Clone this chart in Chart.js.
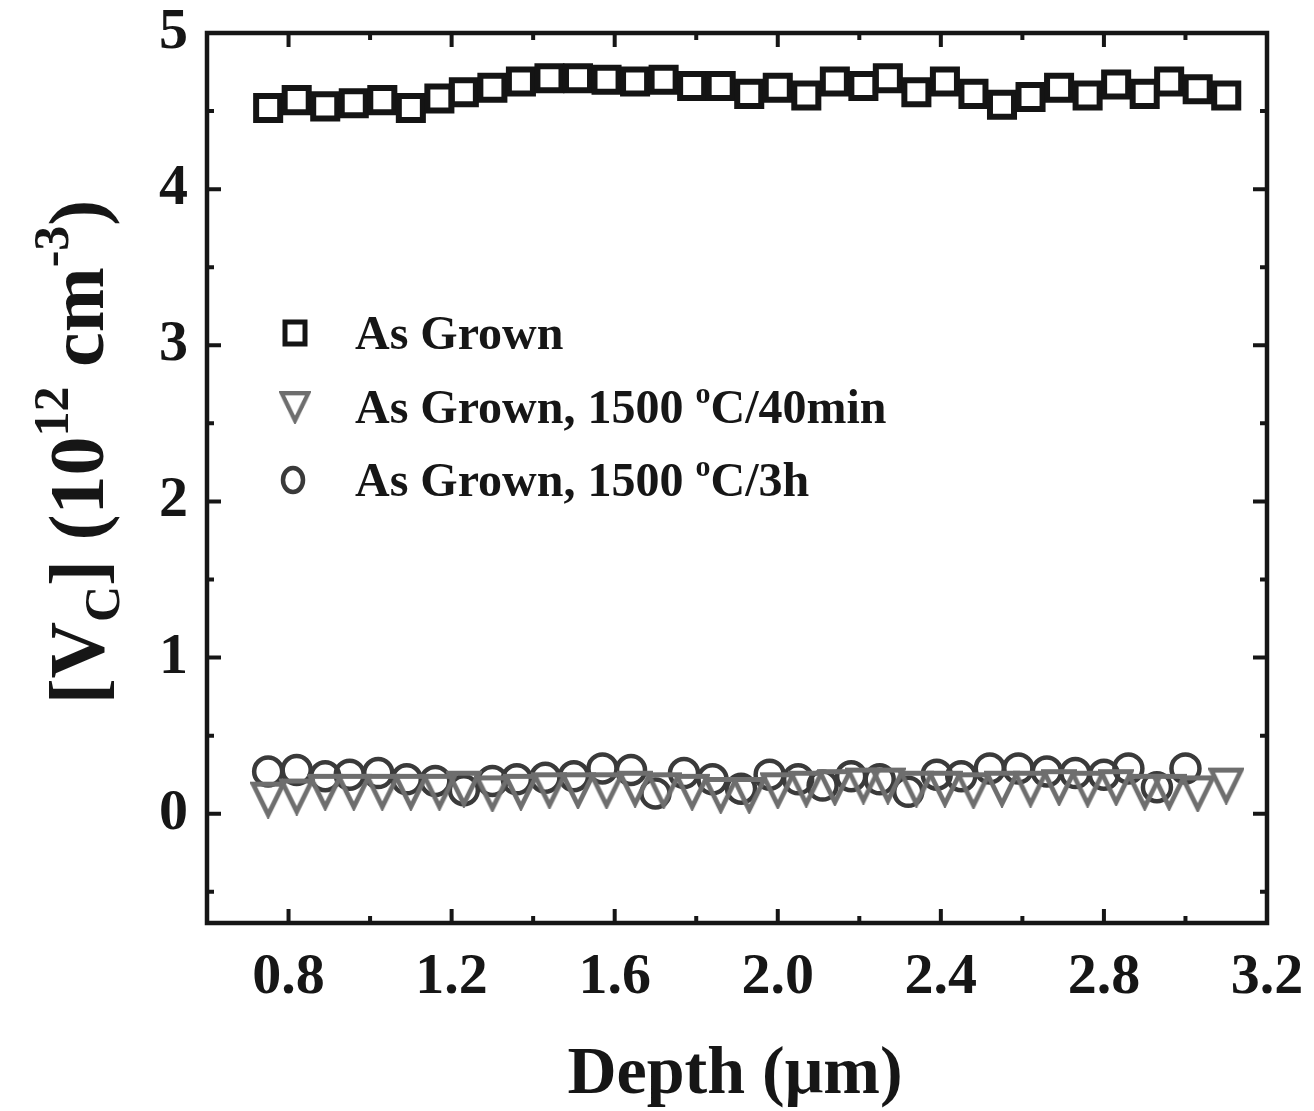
<!DOCTYPE html>
<html lang="en">
<head>
<meta charset="UTF-8">
<title>Vc depth profile</title>
<script src="https://cdn.jsdelivr.net/npm/chart.js"></script>
<style>
  body { margin: 0; background: #fff; }
  #wrap { width: 1314px; height: 1111px; }
</style>
</head>
<body>
<div id="wrap"><canvas id="chart"></canvas></div>
<script>
// depth positions (um)
const depth = [0.75, 0.82, 0.89, 0.96, 1.03, 1.10, 1.17, 1.23, 1.30, 1.37, 1.44, 1.51, 1.58, 1.65, 1.72, 1.79, 1.86, 1.93,
               2.00, 2.07, 2.14, 2.21, 2.27, 2.34, 2.41, 2.48, 2.55, 2.62, 2.69, 2.76, 2.83, 2.90, 2.96, 3.03, 3.10];
const depth3h = [0.75, 0.82, 0.89, 0.95, 1.02, 1.09, 1.16, 1.23, 1.30, 1.36, 1.43, 1.50, 1.57, 1.64, 1.70, 1.77, 1.84,
                 1.91, 1.98, 2.05, 2.11, 2.18, 2.25, 2.32, 2.39, 2.45, 2.52, 2.59, 2.66, 2.73, 2.80, 2.86, 2.93, 3.00];

// [Vc] in 1e12 cm^-3
const asGrown = [4.52, 4.57, 4.53, 4.55, 4.57, 4.52, 4.58, 4.62, 4.65, 4.69, 4.71, 4.71, 4.70, 4.69, 4.70, 4.66, 4.66, 4.61,
                 4.65, 4.60, 4.69, 4.66, 4.71, 4.62, 4.69, 4.61, 4.54, 4.59, 4.65, 4.60, 4.67, 4.61, 4.69, 4.64, 4.60];
const anneal40 = [0.09, 0.11, 0.14, 0.14, 0.14, 0.14, 0.14, 0.16, 0.13, 0.14, 0.15, 0.15, 0.15, 0.16, 0.15, 0.14, 0.12, 0.12,
                  0.15, 0.16, 0.17, 0.18, 0.18, 0.16, 0.16, 0.15, 0.16, 0.16, 0.17, 0.16, 0.17, 0.14, 0.14, 0.13, 0.18];
const anneal3h = [0.27, 0.28, 0.24, 0.25, 0.26, 0.22, 0.21, 0.15, 0.21, 0.22, 0.23, 0.24, 0.29, 0.28, 0.13, 0.26, 0.22,
                  0.16, 0.25, 0.22, 0.18, 0.24, 0.22, 0.14, 0.25, 0.24, 0.29, 0.29, 0.27, 0.26, 0.25, 0.29, 0.17, 0.29];

const seriesNames = ['As Grown', 'As Grown, 1500 ', 'As Grown, 1500 '];
const seriesTails = ['', 'C/40min', 'C/3h'];

const xTicks = [0.8, 1.2, 1.6, 2.0, 2.4, 2.8, 3.2];
const xMinor = [0.6, 1.0, 1.4, 1.8, 2.2, 2.6, 3.0];
const yTicks = [0, 1, 2, 3, 4, 5];
const yMinor = [-0.5, 0.5, 1.5, 2.5, 3.5, 4.5];

const FONT = '"Liberation Serif", "Times New Roman", serif';
const INK = '#161616';
const COL_SQ = '#141414', COL_TRI = '#6e6e6e', COL_CIR = '#3a3a3a';

// down-pointing triangle marker
function makeTriangle() {
  const c = document.createElement('canvas');
  c.width = 36; c.height = 38;
  const g = c.getContext('2d');
  g.strokeStyle = COL_TRI;
  g.lineWidth = 4.8;
  g.lineJoin = 'miter';
  g.beginPath();
  g.moveTo(3, 3.5); g.lineTo(33, 3.5); g.lineTo(18, 34); g.closePath();
  g.stroke();
  return c;
}
const triImg = makeTriangle();

function xy(xs, ys) { return xs.map((v, i) => ({ x: v, y: ys[i] })); }

// draw a run of text pieces (size factor, baseline shift) starting at x
function drawPieces(ctx, pieces, x, y, size) {
  let cx = x;
  pieces.forEach(p => {
    ctx.font = 'bold ' + Math.round(size * p.s) + 'px ' + FONT;
    ctx.fillText(p.t, cx, y + (p.dy || 0));
    cx += ctx.measureText(p.t).width;
  });
  return cx;
}
function piecesWidth(ctx, pieces, size) {
  let w = 0;
  pieces.forEach(p => {
    ctx.font = 'bold ' + Math.round(size * p.s) + 'px ' + FONT;
    w += ctx.measureText(p.t).width;
  });
  return w;
}

const framePlugin = {
  id: 'frame',
  afterDatasetsDraw(chart) {
    const { ctx, chartArea: a, scales: { x, y } } = chart;
    ctx.save();
    ctx.strokeStyle = INK;
    ctx.lineWidth = 4.5;
    ctx.strokeRect(a.left, a.top, a.right - a.left, a.bottom - a.top);
    ctx.lineWidth = 4;
    ctx.beginPath();
    const tickX = (vals, len) => vals.forEach(v => {
      const p = x.getPixelForValue(v);
      ctx.moveTo(p, a.bottom); ctx.lineTo(p, a.bottom - len);
      ctx.moveTo(p, a.top); ctx.lineTo(p, a.top + len);
    });
    const tickY = (vals, len) => vals.forEach(v => {
      const p = y.getPixelForValue(v);
      ctx.moveTo(a.left, p); ctx.lineTo(a.left + len, p);
      ctx.moveTo(a.right, p); ctx.lineTo(a.right - len, p);
    });
    tickX(xTicks, 14); tickX(xMinor, 7);
    tickY(yTicks, 14); tickY(yMinor, 7);
    ctx.stroke();
    ctx.restore();
  },
  afterDraw(chart) {
    const { ctx, chartArea: a } = chart;
    ctx.save();
    ctx.fillStyle = INK;
    ctx.textBaseline = 'alphabetic';

    // x title
    ctx.font = 'bold 68px ' + FONT;
    ctx.textAlign = 'center';
    ctx.fillText('Depth (\u03bcm)', (a.left + a.right) / 2 - 2, 1093);

    // y title, rotated
    ctx.textAlign = 'left';
    const size = 78;
    const yt = [
      { t: '[V', s: 1 }, { t: 'C', s: 0.64, dy: 16 }, { t: '] (10', s: 1 },
      { t: '12', s: 0.64, dy: -35 }, { t: ' cm', s: 1 }, { t: '-3', s: 0.64, dy: -35 }, { t: ')', s: 1 }
    ];
    const w = piecesWidth(ctx, yt, size);
    ctx.translate(103, 452);
    ctx.rotate(-Math.PI / 2);
    drawPieces(ctx, yt, -w / 2, 0, size);
    ctx.restore();

    // legend
    ctx.save();
    const lx = a.left + 88, tx = a.left + 148;
    const rows = [a.top + 300, a.top + 374, a.top + 447];
    const lsize = 48;
    ctx.strokeStyle = COL_SQ; ctx.lineWidth = 5;
    ctx.strokeRect(lx - 10, rows[0] - 11, 20, 22);
    ctx.drawImage(triImg, lx - 16, rows[1] - 17, 32, 34);
    ctx.strokeStyle = COL_CIR; ctx.lineWidth = 4.5;
    ctx.beginPath(); ctx.ellipse(lx - 2, rows[2], 10, 12, 0, 0, Math.PI * 2); ctx.stroke();

    ctx.fillStyle = INK;
    ctx.textAlign = 'left';
    ctx.textBaseline = 'alphabetic';
    rows.forEach((ry, i) => {
      const base = ry + 16;
      const parts = [{ t: seriesNames[i], s: 1 }];
      if (seriesTails[i]) {
        parts.push({ t: 'o', s: 0.62, dy: -20 });
        parts.push({ t: seriesTails[i], s: 1 });
      }
      drawPieces(ctx, parts, tx, base, lsize);
    });
    ctx.restore();
  }
};

new Chart(document.getElementById('chart'), {
  type: 'scatter',
  data: {
    datasets: [
      { label: 'As Grown', data: xy(depth, asGrown), pointStyle: 'rect', pointRadius: 17,
        borderColor: COL_SQ, backgroundColor: 'rgba(0,0,0,0)', borderWidth: 6, order: 1 },
      { label: 'As Grown, 1500 \u00b0C/40min', data: xy(depth, anneal40), pointStyle: triImg, pointRadius: 16,
        borderColor: COL_TRI, backgroundColor: COL_TRI, order: 2 },
      { label: 'As Grown, 1500 \u00b0C/3h', data: xy(depth3h, anneal3h), pointStyle: 'circle', pointRadius: 14,
        borderColor: COL_CIR, backgroundColor: 'rgba(0,0,0,0)', borderWidth: 4.5, order: 3 }
    ]
  },
  options: {
    responsive: true,
    maintainAspectRatio: false,
    animation: false,
    layout: { padding: { top: 33, right: 47, left: 0, bottom: 0 } },
    plugins: { legend: { display: false }, tooltip: { enabled: false } },
    scales: {
      x: {
        type: 'linear', min: 0.6, max: 3.2,
        grid: { display: false }, border: { display: false },
        afterBuildTicks: s => { s.ticks = xTicks.map(v => ({ value: v })); },
        afterFit: s => { s.height = 188; s.paddingRight = 0; s.paddingLeft = 0; },
        ticks: { color: INK, padding: 12, font: { family: FONT, size: 58, weight: 'bold' },
                 callback: v => v.toFixed(1), maxRotation: 0, autoSkip: false }
      },
      y: {
        type: 'linear', min: -0.7, max: 5,
        grid: { display: false }, border: { display: false },
        afterBuildTicks: s => { s.ticks = yTicks.map(v => ({ value: v })); },
        afterFit: s => { s.width = 207; s.paddingTop = 0; s.paddingBottom = 0; },
        ticks: { color: INK, padding: 11, font: { family: FONT, size: 58, weight: 'bold' },
                 callback: v => String(v), autoSkip: false }
      }
    }
  },
  plugins: [framePlugin]
});
</script>
</body>
</html>
